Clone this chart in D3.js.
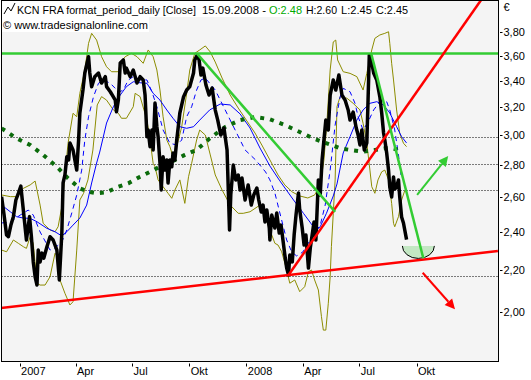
<!DOCTYPE html>
<html>
<head>
<meta charset="utf-8">
<script src="https://cdn.jsdelivr.net/npm/d3@7"></script>
<style>
body { margin: 0; background: #fff; }
svg { display: block; font-family: "Liberation Sans", Arial, sans-serif; font-size: 11px; }
</style>
</head>
<body>
<div id="chart"></div>
<script>
// daily closes
const closes = [["2006-12-03",2.605],["2006-12-07",2.497],["2006-12-11",2.385],["2006-12-14",2.376],["2006-12-18",2.440],["2006-12-22",2.488],["2006-12-26",2.585],["2006-12-30",2.625],["2007-01-03",2.669],["2007-01-07",2.526],["2007-01-12",2.358],["2007-01-17",2.488],["2007-01-20",2.376],["2007-01-23",2.242],["2007-01-26",2.167],["2007-01-29",2.126],["2007-01-31",2.304],["2007-02-03",2.242],["2007-02-06",2.288],["2007-02-09",2.262],["2007-02-14",2.322],["2007-02-19",2.376],["2007-02-24",2.358],["2007-03-02",2.304],["2007-03-06",2.151],["2007-03-10",2.396],["2007-03-12",2.688],["2007-03-15",2.738],["2007-03-18",2.855],["2007-03-21",2.834],["2007-03-23",2.947],["2007-03-28",2.900],["2007-04-03",2.769],["2007-04-06",2.967],["2007-04-08",3.157],["2007-04-13",3.328],["2007-04-16",3.461],["2007-04-22",3.593],["2007-04-24",3.461],["2007-04-27",3.354],["2007-05-02",3.432],["2007-05-08",3.461],["2007-05-13",3.382],["2007-05-19",3.432],["2007-05-21",3.354],["2007-05-27",3.315],["2007-05-31",3.283],["2007-06-04",3.252],["2007-06-06",3.166],["2007-06-09",3.252],["2007-06-12",3.541],["2007-06-17",3.566],["2007-06-20",3.461],["2007-06-22",3.500],["2007-06-28",3.432],["2007-07-03",3.485],["2007-07-09",3.382],["2007-07-14",3.432],["2007-07-19",3.406],["2007-07-22",3.290],["2007-07-25",2.990],["2007-07-27",3.036],["2007-07-30",2.922],["2007-08-02",3.036],["2007-08-04",2.900],["2007-08-07",3.230],["2007-08-10",3.059],["2007-08-12",2.990],["2007-08-15",2.814],["2007-08-17",2.645],["2007-08-20",2.855],["2007-08-23",2.769],["2007-08-26",2.834],["2007-08-28",2.688],["2007-08-31",2.834],["2007-09-03",2.790],["2007-09-05",2.880],["2007-09-08",2.834],["2007-09-11",2.967],["2007-09-16",3.157],["2007-09-22",3.278],["2007-09-27",3.328],["2007-10-02",3.354],["2007-10-08",3.461],["2007-10-10",3.566],["2007-10-14",3.607],["2007-10-17",3.566],["2007-10-20",3.445],["2007-10-23",3.500],["2007-10-28",3.367],["2007-11-02",3.290],["2007-11-07",3.343],["2007-11-12",3.178],["2007-11-16",3.106],["2007-11-21",3.001],["2007-11-26",3.050],["2007-12-01",2.900],["2007-12-05",2.413],["2007-12-07",2.615],["2007-12-11",2.801],["2007-12-15",2.707],["2007-12-19",2.738],["2007-12-22",2.645],["2007-12-25",2.719],["2007-12-30",2.585],["2008-01-04",2.676],["2008-01-09",2.555],["2008-01-13",2.615],["2008-01-18",2.657],["2008-01-21",2.585],["2008-01-25",2.515],["2008-01-28",2.555],["2008-01-31",2.458],["2008-02-03",2.526],["2008-02-07",2.424],["2008-02-08",2.358],["2008-02-11",2.497],["2008-02-16",2.424],["2008-02-19",2.509],["2008-02-23",2.396],["2008-02-26",2.440],["2008-02-29",2.358],["2008-03-03",2.278],["2008-03-06",2.211],["2008-03-09",2.176],["2008-03-11",2.278],["2008-03-15",2.242],["2008-03-18",2.385],["2008-03-21",2.497],["2008-03-25",2.627],["2008-03-27",2.526],["2008-03-31",2.424],["2008-04-03",2.331],["2008-04-06",2.385],["2008-04-10",2.211],["2008-04-13",2.315],["2008-04-16",2.385],["2008-04-19",2.458],["2008-04-22",2.358],["2008-04-26",2.707],["2008-04-29",2.615],["2008-05-02",2.834],["2008-05-05",2.967],["2008-05-08",3.106],["2008-05-12",3.036],["2008-05-15",3.290],["2008-05-20",3.406],["2008-05-24",3.328],["2008-05-29",3.445],["2008-06-03",3.290],["2008-06-08",3.252],["2008-06-13",3.179],["2008-06-16",3.106],["2008-06-21",3.164],["2008-06-26",3.050],["2008-06-29",3.001],["2008-07-02",2.933],["2008-07-05",3.036],["2008-07-09",2.900],["2008-07-13",2.947],["2008-07-15",3.252],["2008-07-17",3.607],["2008-07-21",3.541],["2008-07-24",3.461],["2008-07-29",3.406],["2008-08-03",3.276],["2008-08-06",3.157],["2008-08-09",3.015],["2008-08-11",2.967],["2008-08-14",2.880],["2008-08-17",2.769],["2008-08-19",2.663],["2008-08-22",2.603],["2008-08-25",2.725],["2008-08-27",2.651],["2008-08-30",2.663],["2008-09-02",2.707],["2008-09-04",2.603],["2008-09-07",2.486],["2008-09-10",2.452],["2008-09-15",2.36]]

// slow moving average (solid blue)
const maSlow = [["2006-12-03",2.555],["2006-12-17",2.516],["2006-12-27",2.488],["2007-01-07",2.480],["2007-01-18",2.478],["2007-01-29",2.459],["2007-02-14",2.422],["2007-02-27",2.403],["2007-03-10",2.380],["2007-03-18",2.403],["2007-03-28",2.440],["2007-04-08",2.480],["2007-04-19",2.555],["2007-04-27",2.688],["2007-05-05",2.814],["2007-05-10",2.886],["2007-05-21",3.085],["2007-06-01",3.203],["2007-06-12",3.290],["2007-06-22",3.354],["2007-07-03",3.392],["2007-07-14",3.384],["2007-07-25",3.380],["2007-08-04",3.303],["2007-08-15",3.252],["2007-08-26",3.179],["2007-09-05",3.119],["2007-09-16",3.059],["2007-09-27",3.048],["2007-10-08",3.059],["2007-10-18",3.106],["2007-11-03",3.179],["2007-11-20",3.223],["2007-12-06",3.216],["2007-12-22",3.150],["2008-01-07",3.050],["2008-01-23",2.913],["2008-02-08",2.795],["2008-02-24",2.701],["2008-03-17",2.585],["2008-04-02",2.507],["2008-04-18",2.431],["2008-04-23",2.413],["2008-04-29",2.431],["2008-05-09",2.507],["2008-05-20",2.609],["2008-05-26",2.682],["2008-06-05",2.880],["2008-06-16",2.990],["2008-06-27",3.106],["2008-07-07",3.179],["2008-07-18",3.228],["2008-07-29",3.240],["2008-08-09",3.216],["2008-08-19",3.157],["2008-08-30",3.059],["2008-09-07",2.990],["2008-09-15",2.947]]

// fast moving average (dashed blue)
const maFast = [["2006-12-03",2.452],["2006-12-17",2.457],["2007-01-02",2.497],["2007-01-15",2.526],["2007-01-23",2.497],["2007-02-03",2.402],["2007-02-19",2.304],["2007-02-27",2.315],["2007-03-10",2.347],["2007-03-18",2.413],["2007-03-26",2.509],["2007-04-03",2.615],["2007-04-11",2.769],["2007-04-16",2.967],["2007-04-22",3.130],["2007-04-30",3.278],["2007-05-08",3.380],["2007-05-16",3.406],["2007-05-27",3.380],["2007-06-04",3.341],["2007-06-10",3.313],["2007-06-17",3.328],["2007-06-25",3.406],["2007-07-03",3.432],["2007-07-14",3.406],["2007-07-25",3.406],["2007-08-02",3.315],["2007-08-10",3.203],["2007-08-20",3.036],["2007-08-31",2.945],["2007-09-11",2.933],["2007-09-19",2.967],["2007-09-27",3.130],["2007-10-05",3.203],["2007-10-13",3.328],["2007-10-20",3.406],["2007-10-27",3.421],["2007-11-12",3.328],["2007-11-28",3.179],["2007-12-14",3.036],["2007-12-30",2.900],["2008-01-16",2.834],["2008-02-01",2.757],["2008-02-08",2.707],["2008-02-16",2.627],["2008-02-24",2.509],["2008-03-06",2.358],["2008-03-14",2.295],["2008-03-22",2.273],["2008-04-01",2.294],["2008-04-13",2.358],["2008-04-21",2.402],["2008-04-29",2.440],["2008-05-07",2.555],["2008-05-15",2.769],["2008-05-23",3.071],["2008-05-31",3.276],["2008-06-05",3.341],["2008-06-16",3.315],["2008-06-24",3.228],["2008-06-29",3.130],["2008-07-07",3.036],["2008-07-15",3.092],["2008-07-24",3.179],["2008-08-03",3.240],["2008-08-14",3.240],["2008-08-19",3.179],["2008-08-27",3.036],["2008-09-02",2.867],["2008-09-06",2.738]]

// bollinger bands (olive)
const bandUpper = [["2006-12-03",2.615],["2006-12-17",2.605],["2006-12-27",2.605],["2007-01-07",2.655],["2007-01-18",2.676],["2007-01-26",2.700],["2007-02-03",2.555],["2007-02-08",2.450],["2007-02-19",2.413],["2007-02-27",2.403],["2007-03-04",2.431],["2007-03-10",2.545],["2007-03-15",2.738],["2007-03-20",2.945],["2007-03-28",3.155],["2007-04-03",3.130],["2007-04-08",3.303],["2007-04-16",3.485],["2007-04-22",3.705],["2007-04-27",3.791],["2007-05-05",3.733],["2007-05-13",3.593],["2007-05-21",3.511],["2007-05-29",3.471],["2007-06-09",3.471],["2007-06-12",3.539],["2007-06-20",3.593],["2007-06-30",3.621],["2007-07-09",3.593],["2007-07-19",3.539],["2007-07-27",3.649],["2007-08-04",3.593],["2007-08-10",3.485],["2007-08-15",3.328],["2007-08-20",3.130],["2007-08-26",2.967],["2007-08-31",2.922],["2007-09-05",2.855],["2007-09-11",2.922],["2007-09-19",3.059],["2007-09-27",3.303],["2007-10-02",3.485],["2007-10-10",3.621],["2007-10-18",3.649],["2007-10-27",3.683],["2007-11-04",3.632],["2007-11-12",3.549],["2007-11-23",3.421],["2007-12-06",3.290],["2007-12-19",3.193],["2008-01-01",3.106],["2008-01-15",3.015],["2008-01-26",2.933],["2008-02-08",2.834],["2008-02-21",2.738],["2008-03-03",2.676],["2008-03-15",2.633],["2008-03-27",2.609],["2008-04-09",2.597],["2008-04-20",2.615],["2008-04-29",2.676],["2008-05-05",2.834],["2008-05-10",3.106],["2008-05-15",3.485],["2008-05-20",3.717],["2008-05-24",3.733],["2008-05-27",3.566],["2008-06-05",3.471],["2008-06-16",3.458],["2008-06-27",3.432],["2008-07-07",3.328],["2008-07-13",3.458],["2008-07-21",3.649],["2008-07-26",3.748],["2008-08-03",3.777],["2008-08-11",3.791],["2008-08-17",3.805],["2008-08-19",3.705],["2008-08-22",3.539],["2008-08-25",3.406],["2008-08-30",3.179],["2008-09-04",3.013],["2008-09-10",2.945],["2008-09-15",2.922]]
const bandLower = [["2006-12-03",2.304],["2006-12-11",2.295],["2006-12-22",2.358],["2006-12-30",2.340],["2007-01-07",2.322],["2007-01-12",2.313],["2007-01-18",2.376],["2007-01-23",2.340],["2007-01-29",2.135],["2007-02-03",2.126],["2007-02-11",2.126],["2007-02-19",2.167],["2007-02-27",2.287],["2007-03-04",2.269],["2007-03-07",2.151],["2007-03-15",2.086],["2007-03-23",2.031],["2007-03-28",2.046],["2007-04-03",2.304],["2007-04-08",2.585],["2007-04-14",2.625],["2007-04-21",2.707],["2007-04-29",2.900],["2007-05-06",3.216],["2007-05-13",3.278],["2007-05-21",3.252],["2007-06-01",3.179],["2007-06-09",3.155],["2007-06-14",3.119],["2007-06-22",3.119],["2007-07-03",3.203],["2007-07-06",3.303],["2007-07-14",3.278],["2007-07-25",3.106],["2007-07-30",2.967],["2007-08-04",2.812],["2007-08-07",2.790],["2007-08-12",2.707],["2007-08-20",2.665],["2007-08-28",2.625],["2007-09-03",2.595],["2007-09-08",2.645],["2007-09-16",2.707],["2007-09-24",2.565],["2007-09-30",2.727],["2007-10-05",2.812],["2007-10-13",2.967],["2007-10-18",3.036],["2007-10-27",3.001],["2007-11-04",2.867],["2007-11-12",2.738],["2007-11-23",2.645],["2007-12-06",2.555],["2007-12-19",2.507],["2007-12-27",2.507],["2008-01-07",2.516],["2008-01-23",2.555],["2008-01-31",2.488],["2008-02-08",2.413],["2008-02-16",2.340],["2008-02-21",2.331],["2008-02-27",2.295],["2008-03-06",2.201],["2008-03-11",2.135],["2008-03-19",2.151],["2008-03-27",2.094],["2008-04-04",2.118],["2008-04-10",2.192],["2008-04-15",2.201],["2008-04-20",2.151],["2008-04-26",2.102],["2008-05-01",1.977],["2008-05-04",1.917],["2008-05-08",1.917],["2008-05-12",2.039],["2008-05-15",2.167],["2008-05-17",2.322],["2008-05-20",2.507],["2008-05-23",2.707],["2008-05-26",3.203],["2008-05-31",3.278],["2008-06-11",3.266],["2008-06-21",3.228],["2008-07-02",3.179],["2008-07-07",3.083],["2008-07-13",2.945],["2008-07-18",2.769],["2008-07-21",2.665],["2008-07-26",2.625],["2008-07-31",2.707],["2008-08-06",2.758],["2008-08-11",2.769],["2008-08-17",2.707],["2008-08-22",2.565],["2008-08-25",2.450],["2008-08-27",2.431],["2008-09-02",2.488],["2008-09-07",2.585],["2008-09-12",2.640]]

// cycle line (thick dotted green)
const cycle = [["2006-12-03",3.048],["2006-12-27",2.979],["2007-01-18",2.933],["2007-02-08",2.867],["2007-03-02",2.790],["2007-03-20",2.717],["2007-04-08",2.655],["2007-04-22",2.635],["2007-05-05",2.625],["2007-05-21",2.631],["2007-06-09",2.665],["2007-06-25",2.686],["2007-07-14",2.727],["2007-07-30",2.758],["2007-08-20",2.801],["2007-09-03",2.823],["2007-09-24",2.867],["2007-10-13",2.900],["2007-11-04",2.981],["2007-11-28",3.057],["2007-12-22",3.106],["2008-01-15",3.128],["2008-02-08",3.112],["2008-03-03",3.071],["2008-03-27",3.022],["2008-04-20",2.974],["2008-05-17",2.933],["2008-05-31",2.911],["2008-06-16",2.900],["2008-07-07",2.888],["2008-07-26",2.900],["2008-08-11",2.911],["2008-08-22",2.911],["2008-09-04",2.900]]

// horizontal levels
const dottedLevels = [2.99, 2.81, 2.645, 2.17]
const resistance = 3.62

// drawn trend lines: [start, end]
const redLines = [
  [["2006-12-02", 2.017], ["2009-02-09", 2.299]],
  [["2008-03-09", 2.176], ["2009-01-13", 4.093]]
]
const greenLines = [
  [["2007-10-14", 3.616], ["2008-05-23", 2.515]],
  [["2008-07-20", 3.621], ["2008-10-12", 2.261]]
]
const arrows = [
  { from: ["2008-10-02", 2.615], to: ["2008-11-21", 2.860], color: "#33cc33" },
  { from: ["2008-10-11", 2.187], to: ["2008-12-02", 2.011], color: "#ff0000" }
]
const bowl = { at: ["2008-10-04", 2.326] }

const yTicks = [3.8, 3.6, 3.4, 3.2, 3.0, 2.8, 2.6, 2.4, 2.2, 2.0]
const xTickDates = ["2007-01-01", "2007-04-01", "2007-07-01", "2007-10-01", "2008-01-01", "2008-04-01", "2008-07-01", "2008-10-01"]
const xTickLabels = ["2007", "Apr", "Jul", "Okt", "2008", "Apr", "Jul", "Okt"]

const width = 531, height = 380
const plot = { left: 1.5, top: 0.5, right: 498.5, bottom: 361.5 }
const parse = d3.utcParse("%Y-%m-%d")

const x = d3.scaleUtc()
    .domain([parse("2007-01-01"), parse("2008-10-01")])
    .range([19.6, 416.5])
const y = d3.scaleLog()
    .domain([1.8, 4.0])
    .range([357.5, 10.0])

const line = d3.line()
    .x(d => x(parse(d[0])))
    .y(d => y(d[1]))

const svg = d3.select("#chart")
    .append("svg")
    .attr("width", width)
    .attr("height", height)

svg.append("rect")
    .attr("width", width).attr("height", height)
    .attr("fill", "#fff")

svg.append("clipPath").attr("id", "clip")
    .append("rect")
    .attr("x", plot.left).attr("y", plot.top)
    .attr("width", plot.right - plot.left).attr("height", plot.bottom - plot.top)

svg.append("rect")
    .attr("x", plot.left).attr("y", plot.top)
    .attr("width", plot.right - plot.left).attr("height", plot.bottom - plot.top)
    .attr("fill", "#f4f4f4")

const g = svg.append("g").attr("clip-path", "url(#clip)")

// dotted horizontal levels
g.selectAll(".level")
    .data(dottedLevels)
    .enter()
    .append("line")
    .attr("x1", plot.left).attr("x2", plot.right)
    .attr("y1", d => Math.round(y(d)) + 0.5).attr("y2", d => Math.round(y(d)) + 0.5)
    .attr("stroke", "#000")
    .attr("stroke-width", 1)
    .attr("stroke-dasharray", "1,2")

// bands
;[bandUpper, bandLower].forEach(function (s) {
    g.append("path")
        .attr("d", line(s))
        .attr("fill", "none")
        .attr("stroke", "#8c8c00")
        .attr("stroke-width", 1)
})

g.append("path")
    .attr("d", line(maSlow))
    .attr("fill", "none")
    .attr("stroke", "#0000ff")
    .attr("stroke-width", 1)

g.append("path")
    .attr("d", line(maFast))
    .attr("fill", "none")
    .attr("stroke", "#0000ff")
    .attr("stroke-width", 1)
    .attr("stroke-dasharray", "5,4")

g.append("path")
    .attr("d", line(cycle))
    .attr("fill", "none")
    .attr("stroke", "#0b6b0b")
    .attr("stroke-width", 4)
    .attr("stroke-dasharray", "4,6")

// price
g.append("path")
    .attr("d", line(closes))
    .attr("fill", "none")
    .attr("stroke", "#000")
    .attr("stroke-width", 3.5)
    .attr("stroke-linejoin", "round")

// resistance
g.append("line")
    .attr("x1", plot.left).attr("x2", plot.right)
    .attr("y1", y(resistance)).attr("y2", y(resistance))
    .attr("stroke", "#33cc33")
    .attr("stroke-width", 2.5)

// bowl under the last close
const bx = x(parse(bowl.at[0])), by = y(bowl.at[1])
const rx = 16, ry = 12.5
g.append("path")
    .attr("d", `M${bx - rx},${by} A${rx},${ry} 0 0 0 ${bx + rx},${by} Z`)
    .attr("fill", "#c3e7c3")
g.append("path")
    .attr("d", `M${bx - rx},${by} A${rx},${ry} 0 0 0 ${bx + rx},${by}`)
    .attr("fill", "none")
    .attr("stroke", "#000")
    .attr("stroke-width", 1)

redLines.forEach(function (s) {
    g.append("path")
        .attr("d", line(s))
        .attr("stroke", "#ff0000")
        .attr("stroke-width", 2.5)
})
greenLines.forEach(function (s) {
    g.append("path")
        .attr("d", line(s))
        .attr("stroke", "#33cc33")
        .attr("stroke-width", 2.5)
})

// arrows
arrows.forEach(function (a) {
    const x0 = x(parse(a.from[0])), y0 = y(a.from[1])
    const x1 = x(parse(a.to[0])), y1 = y(a.to[1])
    const ang = Math.atan2(y1 - y0, x1 - x0)
    const len = 10, half = 5
    const bxh = x1 - len * Math.cos(ang), byh = y1 - len * Math.sin(ang)
    g.append("line")
        .attr("x1", x0).attr("y1", y0)
        .attr("x2", bxh).attr("y2", byh)
        .attr("stroke", a.color)
        .attr("stroke-width", 2)
    g.append("path")
        .attr("d", `M${x1},${y1} L${bxh + half * Math.sin(ang)},${byh - half * Math.cos(ang)} L${bxh - half * Math.sin(ang)},${byh + half * Math.cos(ang)} Z`)
        .attr("fill", a.color)
})

// frame
svg.append("rect")
    .attr("x", plot.left).attr("y", plot.top)
    .attr("width", plot.right - plot.left).attr("height", plot.bottom - plot.top)
    .attr("fill", "none")
    .attr("stroke", "#000")

// y axis (right)
const yAxis = svg.append("g")
yAxis.selectAll("line")
    .data(yTicks)
    .enter()
    .append("line")
    .attr("x1", plot.right + 1.5).attr("x2", plot.right + 4)
    .attr("y1", d => Math.round(y(d)) + 0.5).attr("y2", d => Math.round(y(d)) + 0.5)
    .attr("stroke", "#000")
yAxis.selectAll("text")
    .data(yTicks)
    .enter()
    .append("text")
    .attr("x", plot.right + 5)
    .attr("y", d => y(d) + 4)
    .text(d => d3.format(".2f")(d).replace(".", ","))

svg.append("text")
    .attr("x", plot.right + 5).attr("y", 11)
    .text("€")

// x axis
const xAxis = svg.append("g")
xAxis.selectAll("line")
    .data(xTickDates)
    .enter()
    .append("line")
    .attr("x1", d => Math.round(x(parse(d))) + 0.5).attr("x2", d => Math.round(x(parse(d))) + 0.5)
    .attr("y1", plot.bottom + 2).attr("y2", plot.bottom + 5)
    .attr("stroke", "#000")
xAxis.selectAll("text")
    .data(xTickDates)
    .enter()
    .append("text")
    .attr("x", d => x(parse(d)) + 1.5)
    .attr("y", plot.bottom + 13)
    .text((d, i) => xTickLabels[i])

// title block
svg.append("rect").attr("x", 2).attr("y", 1).attr("width", 408).attr("height", 16).attr("fill", "#fff")
svg.append("rect").attr("x", 2).attr("y", 17).attr("width", 147).attr("height", 15).attr("fill", "#fff")
svg.append("path")
    .attr("d", "M4,14 L8,7 L11,11 L15,3")
    .attr("fill", "none")
    .attr("stroke", "#000")
    .attr("stroke-width", 1)

const titleParts = [
    { text: "KCN FRA format_period_daily [Close]", x: 17, w: 179, color: "#000" },
    { text: "15.09.2008 -", x: 202, w: 64, color: "#000" },
    { text: "O:2.48", x: 269, w: 33, color: "#00aa00" },
    { text: "H:2.60", x: 306, w: 31, color: "#000" },
    { text: "L:2.45", x: 341, w: 31, color: "#000" },
    { text: "C:2.45", x: 376, w: 32, color: "#000" }
]
svg.selectAll(".title")
    .data(titleParts)
    .enter()
    .append("text")
    .attr("x", d => d.x)
    .attr("y", 13.5)
    .attr("fill", d => d.color)
    .attr("textLength", d => d.w)
    .attr("lengthAdjust", "spacingAndGlyphs")
    .text(d => d.text)

svg.append("text")
    .attr("x", 3).attr("y", 29)
    .attr("textLength", 145)
    .attr("lengthAdjust", "spacingAndGlyphs")
    .text("© www.tradesignalonline.com")
</script>
</body>
</html>
